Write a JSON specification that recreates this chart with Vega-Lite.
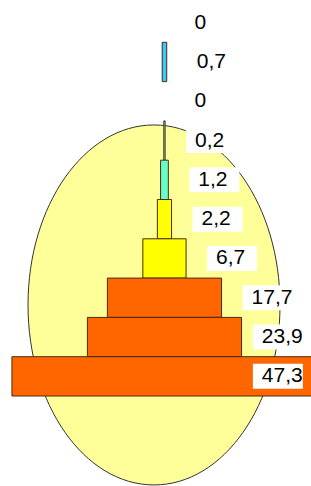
{
  "$schema": "https://vega.github.io/schema/vega-lite/v6.json",
  "width": 311,
  "height": 486,
  "autosize": {"type": "none"},
  "padding": 0,
  "background": "white",
  "config": {
    "view": {"stroke": null},
    "locale": {"number": {"decimal": ",", "thousands": ".", "grouping": [3], "currency": ["", " €"]}}
  },
  "data": {
    "values": [
      {"rank": 1, "value": 0},
      {"rank": 2, "value": 0.7},
      {"rank": 3, "value": 0},
      {"rank": 4, "value": 0.2},
      {"rank": 5, "value": 1.2},
      {"rank": 6, "value": 2.2},
      {"rank": 7, "value": 6.7},
      {"rank": 8, "value": 17.7},
      {"rank": 9, "value": 23.9},
      {"rank": 10, "value": 47.3}
    ]
  },
  "transform": [
    {"stack": "value", "groupby": ["rank"], "offset": "center", "as": ["v0", "v1"]},
    {"calculate": "min(datum.v1, 34.1)", "as": "labelX"}
  ],
  "resolve": {"scale": {"x": "shared", "y": "shared"}},
  "layer": [
    {
      "data": {"values": [{"shape": "ellipse"}]},
      "mark": {
        "type": "point",
        "filled": true,
        "fill": "#FFFF99",
        "stroke": "#333333",
        "strokeWidth": 1,
        "opacity": 1,
        "fillOpacity": 1,
        "shape": "M -0.7 0.04 A 0.7 1 0 1 0 0.7 0.04 A 0.7 1 0 1 0 -0.7 0.04 Z",
        "size": 129600
      },
      "encoding": {
        "x": {"datum": 22.03, "type": "quantitative", "scale": {"domain": [-1.85, 46.37], "nice": false, "zero": false}, "axis": null},
        "y": {"datum": 8, "type": "ordinal", "scale": {"domain": [1, 2, 3, 4, 5, 6, 7, 8, 9, 10], "range": [3, 396], "paddingInner": 0, "paddingOuter": 0}, "axis": null}
      }
    },
    {
      "transform": [{"filter": "datum.value > 0"}],
      "mark": {"type": "bar", "stroke": "#4a2a10", "strokeWidth": 1},
      "encoding": {
        "x": {"field": "v0", "type": "quantitative", "scale": {"domain": [-1.85, 46.37], "nice": false, "zero": false}, "axis": null},
        "x2": {"field": "v1"},
        "y": {"field": "rank", "type": "ordinal", "axis": null},
        "color": {
          "field": "rank",
          "type": "ordinal",
          "legend": null,
          "scale": {
            "domain": [1, 2, 3, 4, 5, 6, 7, 8, 9, 10],
            "range": ["#33CCFF", "#33CCFF", "#66FFCC", "#66FFCC", "#66FFCC", "#FFFF00", "#FFFF00", "#FF6600", "#FF6600", "#FF6600"]
          }
        }
      }
    },
    {
      "mark": {
        "type": "point",
        "filled": true,
        "fill": "white",
        "opacity": 1,
        "strokeWidth": 0,
        "shape": "M 0.84 -0.5 H 2.84 V 0.5 H 0.84 Z",
        "size": 2500
      },
      "encoding": {
        "x": {"field": "labelX", "type": "quantitative"},
        "y": {"field": "rank", "type": "ordinal"}
      }
    },
    {
      "mark": {
        "type": "text",
        "align": "left",
        "baseline": "middle",
        "dx": 30,
        "font": "'Liberation Sans Narrow', 'Liberation Sans', sans-serif",
        "fontSize": 21,
        "color": "black"
      },
      "encoding": {
        "x": {"field": "labelX", "type": "quantitative"},
        "y": {"field": "rank", "type": "ordinal"},
        "text": {"field": "value", "type": "quantitative", "format": ".1~f"}
      }
    }
  ]
}
